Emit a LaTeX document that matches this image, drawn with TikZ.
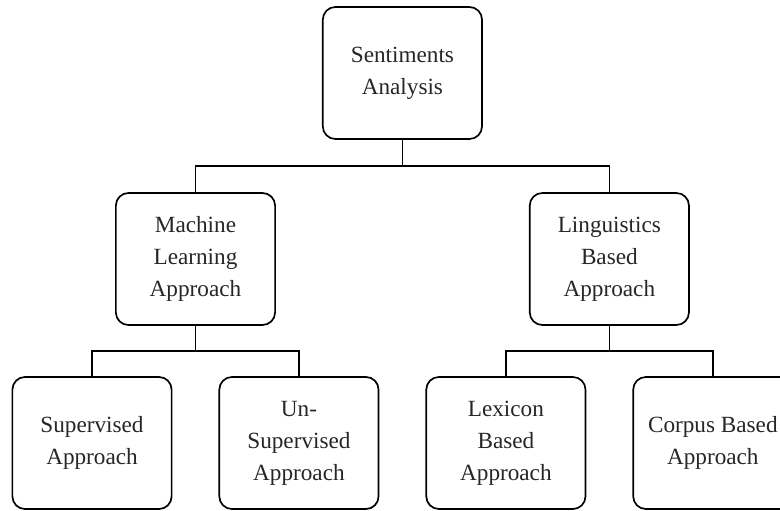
\documentclass[tikz,border=0pt]{standalone}
\usepackage{fontspec}
\setmainfont{Liberation Serif}
\usepackage{tikz}
\usetikzlibrary{
	positioning,
	calc
}

\begin{document}
\begin{tikzpicture}[
			x=0.025cm, y=-0.025cm,
			font=\fontsize{16.5}{22.7}\selectfont,
			bloco/.style={draw, line width=1.2pt, rounded corners=9pt, align=center, text=black!85, minimum width=3.98cm, minimum height=3.3cm, inner sep=2pt},
			fl/.style={line width=1.2pt}
		]
		\useasboundingbox (0,0) rectangle (780,511);

		% folhas
		\node[bloco] (sup) at (92,443) {Supervised\\ Approach};
		\node[bloco, right=1.15cm of sup] (unsup) {Un-\\ Supervised\\ Approach};
		\node[bloco, right=1.15cm of unsup] (lex) {Lexicon\\ Based\\ Approach};
		\node[bloco, right=1.15cm of lex] (corpus) {Corpus Based\\ Approach};

		% nivel do meio
		\node[bloco] (ml) at ($(sup)!0.5!(unsup)+(0,-184)$) {Machine\\ Learning\\ Approach};
		\node[bloco] (ling) at ($(lex)!0.5!(corpus)+(0,-184)$) {Linguistics\\ Based\\ Approach};

		% raiz
		\node[bloco] (sent) at ($(ml)!0.5!(ling)+(0,-186)$) {Sentiments\\ Analysis};

		% ligacoes
		\coordinate (j0) at ($(sent.south)!0.5!(ml.north)$);
		\coordinate (j1) at ($(ml.south)!0.5!(sup.north)$);
		\coordinate (j2) at ($(ling.south)!0.5!(lex.north)$);

		\draw[fl] (sent.south) -- (sent.south |- j0);
		\draw[fl] (ml.north) |- (j0) -| (ling.north);
		\draw[fl] (ml.south) -- (ml.south |- j1);
		\draw[fl] (sup.north) |- (j1) -| (unsup.north);
		\draw[fl] (ling.south) -- (ling.south |- j2);
		\draw[fl] (lex.north) |- (j2) -| (corpus.north);
	\end{tikzpicture}
\end{document}
